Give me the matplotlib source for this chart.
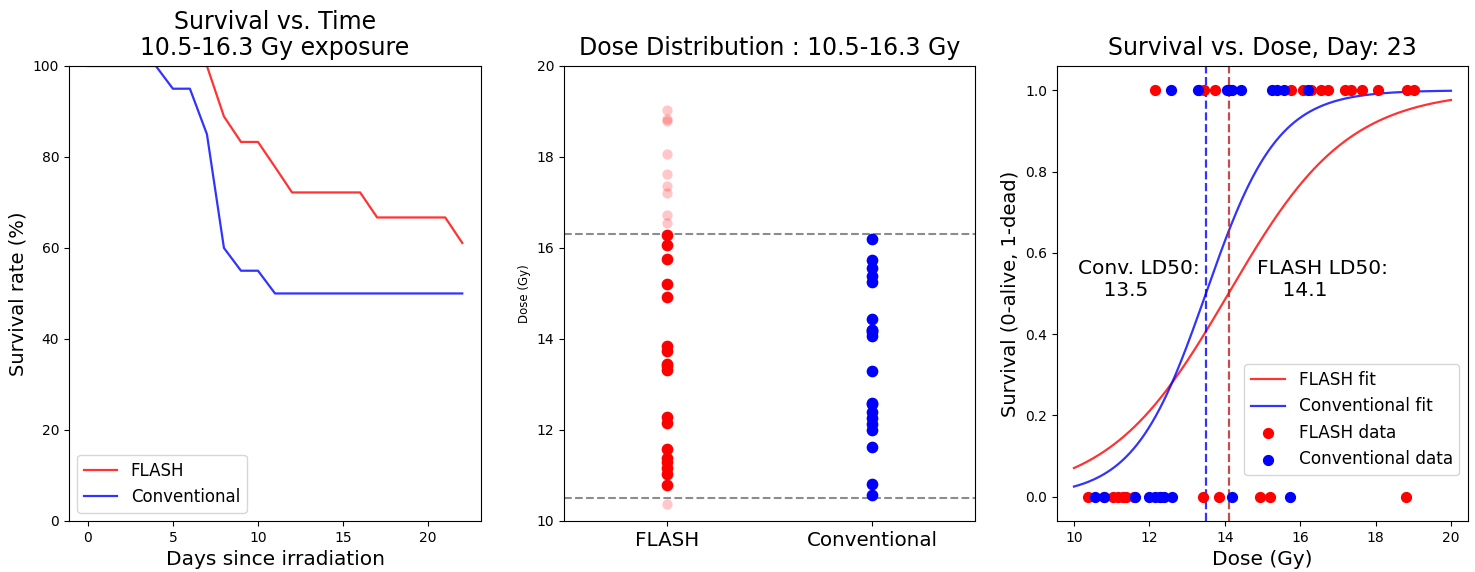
import numpy as np
import matplotlib
matplotlib.use("Agg")
import matplotlib.pyplot as plt

# ---------------- data ----------------
days = list(range(0, 23))
flash_survival = [100, 100, 100, 100, 100, 100, 100, 100, 88.9, 83.3, 83.3, 77.8,
                  72.2, 72.2, 72.2, 72.2, 72.2, 66.7, 66.7, 66.7, 66.7, 66.7, 61.1]
conv_survival = [100, 100, 100, 100, 100, 95, 95, 85, 60, 55, 55, 50,
                 50, 50, 50, 50, 50, 50, 50, 50, 50, 50, 50]

# FLASH doses (Gy) and outcome at day 23 (1 = dead, 0 = alive)
flash_dose = [19.03, 18.83, 18.80, 18.06, 17.63, 17.36, 17.20, 16.73, 16.54,
              16.29, 16.07, 15.75, 15.20, 14.93, 13.85, 13.74, 13.44, 13.41,
              13.32, 12.29, 12.16, 11.58, 11.38, 11.30, 11.16, 11.03, 10.80, 10.37]
flash_outcome = [1, 1, 0, 1, 1, 1, 1, 1, 1,
                 1, 1, 1, 0, 0, 0, 1, 1, 0,
                 1, 0, 1, 0, 0, 0, 0, 0, 0, 0]

conv_dose = [16.20, 15.74, 15.56, 15.38, 15.26, 14.43, 14.20, 14.20, 14.15, 14.07,
             13.30, 12.60, 12.58, 12.40, 12.27, 12.14, 12.00, 11.63, 10.81, 10.56]
conv_outcome = [1, 0, 1, 1, 1, 1, 1, 0, 1, 1,
                1, 0, 1, 0, 0, 0, 0, 0, 0, 0]

dose_low, dose_high = 10.5, 16.3
flash_ld50, flash_slope = 14.1, 0.63
conv_ld50, conv_slope = 13.5, 1.05
fit_range = (10, 20)
day_label = 23

# ---------------- figure ----------------
fig = plt.figure(figsize=(14.75, 5.72), dpi=100)
ax1 = fig.add_axes([0.0468, 0.0892, 0.2793, 0.7955])
ax2 = fig.add_axes([0.3824, 0.0892, 0.2786, 0.7955])
ax3 = fig.add_axes([0.7166, 0.0892, 0.2786, 0.7955])

TITLE_FS = 17
LABEL_FS = 14.5
TICK_FS = 10
TITLE_PAD = 8

# ---- left: survival vs time ----
ax1.plot(days, flash_survival, color='red', alpha=0.8, lw=1.6, label='FLASH')
ax1.plot(days, conv_survival, color='blue', alpha=0.8, lw=1.6, label='Conventional')
ax1.set_ylim(0, 100)
ax1.set_xticks([0, 5, 10, 15, 20])
ax1.set_yticks([0, 20, 40, 60, 80, 100])
ax1.tick_params(labelsize=TICK_FS)
ax1.set_xlabel('Days since irradiation', fontsize=LABEL_FS)
ax1.set_ylabel('Survival rate (%)', fontsize=14)
ax1.set_title('Survival vs. Time\n10.5-16.3 Gy exposure', fontsize=TITLE_FS,
              linespacing=1.1, pad=TITLE_PAD)
ax1.legend(loc='lower left', fontsize=12)

# ---- middle: dose distribution ----
for xi, doses, col in [(0, flash_dose, 'red'), (1, conv_dose, 'blue')]:
    d = np.array(doses)
    inside = (d >= dose_low) & (d <= dose_high)
    ax2.scatter(np.full(inside.sum(), xi), d[inside], color=col, s=55, zorder=3)
    ax2.scatter(np.full((~inside).sum(), xi), d[~inside], color=col, s=55,
                alpha=0.22, zorder=3, linewidths=0)
ax2.axhline(dose_low, color='gray', ls='--', lw=1.5, alpha=0.9)
ax2.axhline(dose_high, color='gray', ls='--', lw=1.5, alpha=0.9)
ax2.set_xlim(-0.5, 1.5)
ax2.set_ylim(10, 20)
ax2.set_xticks([0, 1])
ax2.set_xticklabels(['FLASH', 'Conventional'], fontsize=14.3)
ax2.set_yticks([10, 12, 14, 16, 18, 20])
ax2.tick_params(axis='y', labelsize=TICK_FS)
ax2.set_ylabel('Dose (Gy)', fontsize=8.5)
ax2.set_title('Dose Distribution : 10.5-16.3 Gy', fontsize=TITLE_FS, pad=TITLE_PAD)

# ---- right: survival vs dose ----
xs = np.linspace(fit_range[0], fit_range[1], 300)
flash_fit = 1.0 / (1.0 + np.exp(-flash_slope * (xs - flash_ld50)))
conv_fit = 1.0 / (1.0 + np.exp(-conv_slope * (xs - conv_ld50)))
ax3.plot(xs, flash_fit, color='red', alpha=0.8, lw=1.6, label='FLASH fit')
ax3.plot(xs, conv_fit, color='blue', alpha=0.8, lw=1.6, label='Conventional fit')
ax3.scatter(flash_dose, flash_outcome, color='red', s=50, label='FLASH data', zorder=3)
ax3.scatter(conv_dose, conv_outcome, color='blue', s=50, label='Conventional data', zorder=3)
ax3.axvline(conv_ld50, color='blue', ls='--', lw=1.6, alpha=0.8)
ax3.axvline(flash_ld50, color='firebrick', ls='--', lw=1.6, alpha=0.8)
ax3.text(10.1, 0.535, 'Conv. LD50:\n    %.1f' % conv_ld50, fontsize=14.5, va='center')
ax3.text(14.85, 0.535, 'FLASH LD50:\n    %.1f' % flash_ld50, fontsize=14.5, va='center')
ax3.set_xlim(9.55, 20.45)
ax3.set_ylim(-0.06, 1.06)
ax3.set_xticks([10, 12, 14, 16, 18, 20])
ax3.set_yticks([0.0, 0.2, 0.4, 0.6, 0.8, 1.0])
ax3.tick_params(labelsize=TICK_FS)
ax3.set_xlabel('Dose (Gy)', fontsize=LABEL_FS)
ax3.set_ylabel('Survival (0-alive, 1-dead)', fontsize=14)
ax3.set_title('Survival vs. Dose, Day: %d' % day_label, fontsize=TITLE_FS, pad=TITLE_PAD)
ax3.legend(loc='lower right', fontsize=12.2, bbox_to_anchor=(1.0, 0.082))

fig.savefig('out.png', dpi=100)
